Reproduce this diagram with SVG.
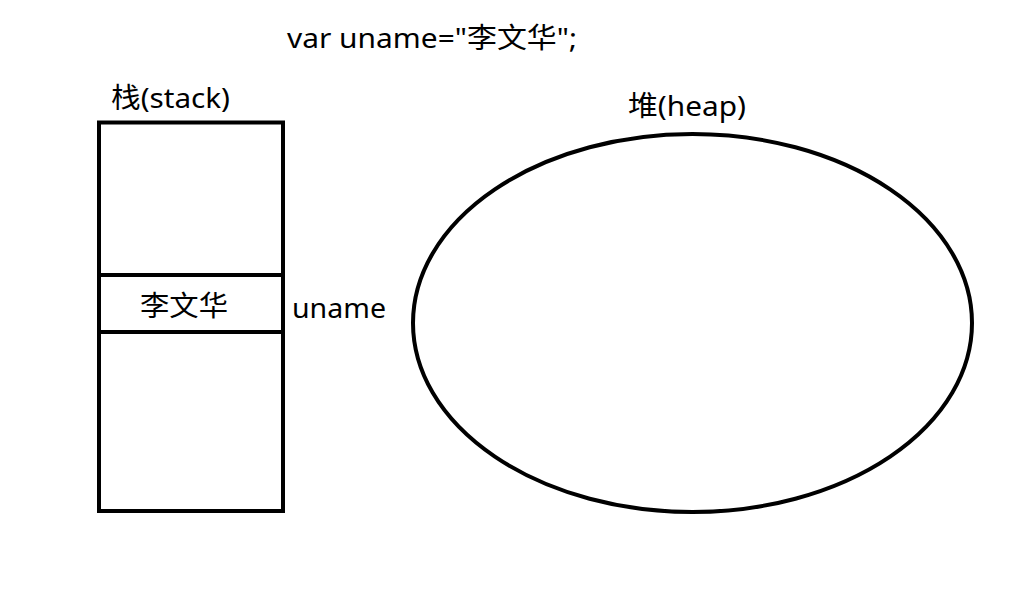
<svg xmlns="http://www.w3.org/2000/svg" width="1018" height="608" viewBox="0 0 1018 608">
<style>
text{font-family:"Noto Sans","Noto Sans CJK SC",sans-serif;font-size:28px;fill:#000}
.s{fill:none;stroke:#000;stroke-width:4}
</style>
<rect width="1018" height="608" fill="#fff"/>
<g id="title"><text x="287" y="48" textLength="290" lengthAdjust="spacingAndGlyphs">var uname="李文华";</text></g>
<g id="stack">
<text x="111" y="108" textLength="119" lengthAdjust="spacingAndGlyphs">栈(stack)</text>
<rect class="s" x="99" y="122.5" width="184" height="388.5"/>
<line class="s" x1="99" y1="275" x2="283" y2="275"/>
<line class="s" x1="99" y1="332" x2="283" y2="332"/>
</g>
<g id="cell"><text x="140" y="316" textLength="88" lengthAdjust="spacingAndGlyphs">李文华</text></g>
<g id="uname"><text x="292" y="318" textLength="94" lengthAdjust="spacingAndGlyphs">uname</text></g>
<g id="heap">
<text x="628" y="116" textLength="118" lengthAdjust="spacingAndGlyphs">堆(heap)</text>
<ellipse class="s" cx="692.5" cy="323" rx="279.5" ry="189"/>
</g>
<g id="connectors"/>
</svg>
